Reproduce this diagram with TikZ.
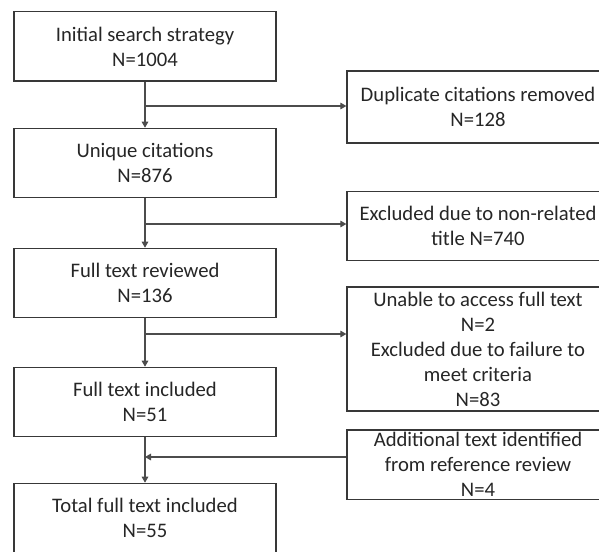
\documentclass[tikz,border=0pt]{standalone}
\usepackage{fontspec}
\setmainfont{Carlito}
\usetikzlibrary{arrows.meta}

\tikzset{
  stage/.style={draw=black!78, line width=1pt, fill=white, inner sep=0pt,
    minimum width=196.5pt, minimum height=52pt, align=center,
    font=\fontsize{15.5}{18.75}\selectfont, text=black!85},
  flow/.style={draw=black!70, line width=0.8pt, -{Triangle[width=5pt,length=4.5pt]}}
}

\begin{document}
\begin{tikzpicture}[x=0.75pt,y=-0.75pt]
\useasboundingbox (0,0) rectangle (599,552);
\clip (0,0) rectangle (599,552);
\node[stage] (init) at (145,46.5) {Initial search strategy\\N=1004};
\node[stage] (uniq) at (145,163) {Unique citations\\N=876};
\node[stage] (full) at (145,283) {Full text reviewed\\N=136};
\node[stage] (incl) at (145,402) {Full text included\\N=51};
\node[stage] (total) at (145,518) {Total full text included\\N=55};
\node[stage, minimum height=54pt] (dup) at (478,107) {Duplicate citations removed\\N=128};
\node[stage] (notrel) at (478,226) {Excluded due to non-related\\title N=740};
\node[stage, minimum height=93pt] (noacc) at (478,349) {Unable to access full text\\N=2\\Excluded due to failure to\\meet criteria\\N=83};
\node[stage] (extra) at (478,464.5) {Additional text identified\\from reference review\\N=4};
\coordinate (b1) at (145,106);
\coordinate (b2) at (145,224);
\coordinate (b3) at (145,334);
\coordinate (b4) at (145,457);
\draw[flow] (init) -- (uniq);
\draw[flow] (uniq) -- (full);
\draw[flow] (full) -- (incl);
\draw[flow] (incl) -- (total);
\draw[flow] (b1) -- (b1 -| dup.west);
\draw[flow] (b2) -- (b2 -| notrel.west);
\draw[flow] (b3) -- (b3 -| noacc.west);
\draw[flow] (b4 -| extra.west) -- (b4);
\end{tikzpicture}
\end{document}
